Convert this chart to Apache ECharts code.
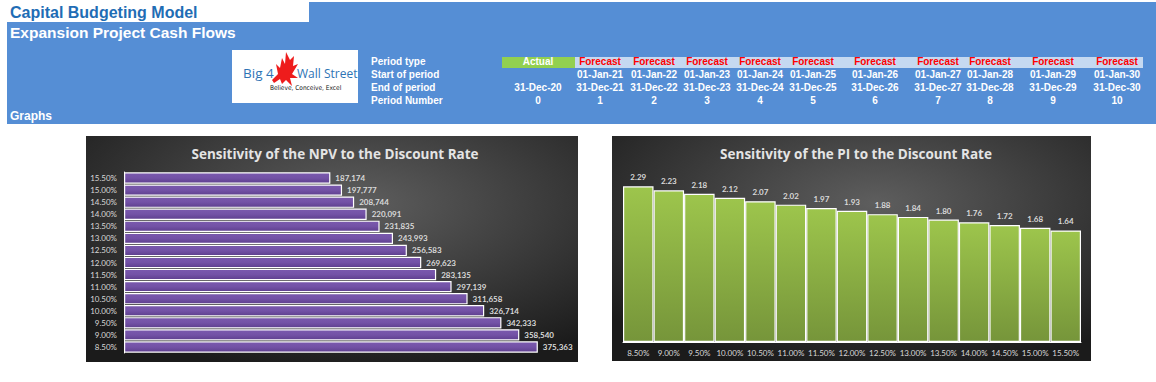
<!DOCTYPE html>
<html>
<head>
<meta charset="utf-8">
<script src="https://cdn.jsdelivr.net/npm/echarts@6/dist/echarts.min.js"></script>
<style>
  html, body { margin: 0; padding: 0; background: #ffffff; width: 1156px; height: 382px; overflow: hidden; }
  body { position: relative; font-family: "Liberation Sans", Arial, sans-serif; }
  .abs { position: absolute; white-space: nowrap; }
  .blue { background: #558ED5; }
  .hdr { color: #ffffff; font-weight: bold; font-size: 10px; line-height: 12px; }
  .cell { color: #ffffff; font-weight: bold; font-size: 10px; line-height: 12px; transform: translateX(-50%); }
  .fc { color: #ff0000; }
  #chart { position: absolute; left: 0; top: 130px; width: 1156px; height: 252px; }
</style>
</head>
<body>
<div class="abs blue" style="left:309px;top:2px;width:847px;height:20px;"></div>
<div class="abs blue" style="left:7px;top:22px;width:1149px;height:102px;"></div>
<div class="abs" style="left:10px;top:3px;font-weight:bold;font-size:16px;line-height:19px;color:#1F6DB5;">Capital Budgeting Model</div>
<div class="abs" style="left:10px;top:23px;font-weight:bold;font-size:15.5px;line-height:19px;color:#ffffff;">Expansion Project Cash Flows</div>
<div class="abs" style="left:10px;top:109px;font-weight:bold;font-size:12px;line-height:14px;color:#ffffff;">Graphs</div>

<!-- logo -->
<div class="abs" style="left:232px;top:50px;width:126px;height:53px;background:#ffffff;overflow:hidden;">
  <div class="abs" style="left:11px;top:15px;font-family:'Open Sans',sans-serif;font-size:13.5px;line-height:17px;color:#2E74B5;">Big 4</div>
  <div class="abs" style="left:65px;top:15px;font-family:'Open Sans',sans-serif;font-size:12px;line-height:17px;color:#2E74B5;">Wall Street</div>
  <svg width="126" height="53" viewBox="0 0 126 53" style="position:absolute;left:0;top:0;">
    <path d="M40 30 L46 24 L44 14 L48 18 L50 8 L53 14 L54 2 L58 10 L62 6 L61 16 L66 14 L60 24 L66 28 L58 28 L60 36 L54 30 L50 34 L48 29 L42 33 Z" fill="#EE1C1C"/>
  </svg>
  <div class="abs" style="left:38px;top:34px;font-family:'Liberation Sans Narrow','DejaVu Sans Condensed',sans-serif;font-size:6.5px;line-height:8px;color:#111;">Believe, Conceive, Excel</div>
</div>

<div id="hdr"></div>
<div id="chart"></div>

<script>
// ---------- header data ----------
var rowLabels = ['Period type', 'Start of period', 'End of period', 'Period Number'];
var periodTypes = ['Actual', 'Forecast', 'Forecast', 'Forecast', 'Forecast', 'Forecast', 'Forecast', 'Forecast', 'Forecast', 'Forecast', 'Forecast'];
var startDates = ['', '01-Jan-21', '01-Jan-22', '01-Jan-23', '01-Jan-24', '01-Jan-25', '01-Jan-26', '01-Jan-27', '01-Jan-28', '01-Jan-29', '01-Jan-30'];
var endDates = ['31-Dec-20', '31-Dec-21', '31-Dec-22', '31-Dec-23', '31-Dec-24', '31-Dec-25', '31-Dec-26', '31-Dec-27', '31-Dec-28', '31-Dec-29', '31-Dec-30'];
var periodNumbers = [0, 1, 2, 3, 4, 5, 6, 7, 8, 9, 10];

// ---------- chart data ----------
var discountRates = ['8.50%', '9.00%', '9.50%', '10.00%', '10.50%', '11.00%', '11.50%', '12.00%', '12.50%', '13.00%', '13.50%', '14.00%', '14.50%', '15.00%', '15.50%'];
var npvValues = [375363, 358540, 342333, 326714, 311658, 297139, 283135, 269623, 256583, 243993, 231835, 220091, 208744, 197777, 187174];
var piValues = [2.29, 2.23, 2.18, 2.12, 2.07, 2.02, 1.97, 1.93, 1.88, 1.84, 1.80, 1.76, 1.72, 1.68, 1.64];
var npvTitle = 'Sensitivity of the NPV to the Discount Rate';
var piTitle = 'Sensitivity of the PI to the Discount Rate';

// ---------- header layout ----------
(function () {
  var colX = [538, 600, 654, 707, 760, 813, 875, 938, 990, 1053, 1117];
  var rowY = [56, 69, 82, 95];
  var h = document.getElementById('hdr');
  var html = '';
  html += '<div class="abs" style="left:502px;top:57px;width:73px;height:11px;background:#92D050;"></div>';
  html += '<div class="abs" style="left:575px;top:57px;width:568px;height:11px;background:#C5D9F1;"></div>';
  for (var r = 0; r < rowLabels.length; r++) {
    html += '<div class="abs hdr" style="left:371px;top:' + rowY[r] + 'px;">' + rowLabels[r] + '</div>';
  }
  var rows = [periodTypes, startDates, endDates, periodNumbers];
  for (var r2 = 0; r2 < rows.length; r2++) {
    for (var c = 0; c < colX.length; c++) {
      var v = rows[r2][c];
      if (v === '') continue;
      var cls = 'abs cell' + (r2 === 0 && v === 'Forecast' ? ' fc' : '');
      html += '<div class="' + cls + '" style="left:' + colX[c] + 'px;top:' + rowY[r2] + 'px;">' + v + '</div>';
    }
  }
  h.innerHTML = html;
})();

// ---------- charts ----------
var chart = echarts.init(document.getElementById('chart'), null, { renderer: 'svg', width: 1156, height: 252 });

function panelFill() {
  return new echarts.graphic.RadialGradient(0.55, 0.3, 0.75, [
    { offset: 0, color: '#5e5e5e' },
    { offset: 1, color: '#1b1b1b' }
  ]);
}
var labelColor = '#d9d9d9';
var fontFam = 'Lato, "Open Sans", sans-serif';
var titleFam = '"Open Sans", Lato, sans-serif';

var option = {
  animation: false,
  backgroundColor: 'transparent',
  graphic: [
    { type: 'rect', z: -10, shape: { x: 86, y: 6, width: 492, height: 226 }, style: { fill: panelFill() } },
    { type: 'rect', z: -10, shape: { x: 612, y: 6, width: 479, height: 225 }, style: { fill: panelFill() } }
  ],
  title: [
    { text: npvTitle, left: 330, top: 12, textAlign: 'center',
      textStyle: { color: '#e4e4e4', fontSize: 13.5, fontWeight: 'bold', fontFamily: titleFam } },
    { text: piTitle, left: 851, top: 12, textAlign: 'center',
      textStyle: { color: '#e4e4e4', fontSize: 13.5, fontWeight: 'bold', fontFamily: titleFam } }
  ],
  grid: [
    { left: 124, top: 42, width: 441, height: 181 },
    { left: 623, top: 42, width: 458, height: 170 }
  ],
  xAxis: [
    { gridIndex: 0, type: 'value', min: 0, max: 400000, show: false, splitLine: { show: false } },
    { gridIndex: 1, type: 'category', data: discountRates,
      axisLine: { show: true, lineStyle: { color: '#ffffff', width: 1 } },
      axisTick: { show: false },
      axisLabel: { color: labelColor, fontSize: 8, fontFamily: fontFam, margin: 7, interval: 0 } }
  ],
  yAxis: [
    { gridIndex: 0, type: 'category', data: discountRates,
      axisLine: { show: true, lineStyle: { color: '#ffffff', width: 1 } },
      axisTick: { show: false },
      axisLabel: { color: labelColor, fontSize: 8, fontFamily: fontFam, margin: 7, interval: 0 } },
    { gridIndex: 1, type: 'value', min: 0, max: 2.5, show: false, splitLine: { show: false } }
  ],
  series: [
    {
      type: 'bar', xAxisIndex: 0, yAxisIndex: 0, data: npvValues,
      barCategoryGap: '6%',
      itemStyle: {
        color: new echarts.graphic.LinearGradient(0, 0, 0, 1, [
          { offset: 0, color: '#7a59ae' },
          { offset: 0.5, color: '#7352a6' },
          { offset: 1, color: '#5e3f8e' }
        ]),
        borderColor: '#ffffff', borderWidth: 1.2
      },
      label: {
        show: true, position: 'right', distance: 5, color: labelColor, fontSize: 8, fontWeight: 'bold', fontFamily: fontFam,
        formatter: function (p) { return p.value.toLocaleString('en-US'); }
      }
    },
    {
      type: 'bar', xAxisIndex: 1, yAxisIndex: 1, data: piValues,
      barCategoryGap: '0%',
      itemStyle: {
        color: new echarts.graphic.LinearGradient(0, 0, 0, 1, [
          { offset: 0, color: '#9dc54c' },
          { offset: 1, color: '#76953a' }
        ]),
        borderColor: '#ffffff', borderWidth: 1.2
      },
      label: {
        show: true, position: 'top', distance: 5, color: labelColor, fontSize: 8, fontWeight: 'bold', fontFamily: fontFam,
        formatter: function (p) { return p.value.toFixed(2); }
      }
    }
  ]
};
chart.setOption(option);
</script>
</body>
</html>
